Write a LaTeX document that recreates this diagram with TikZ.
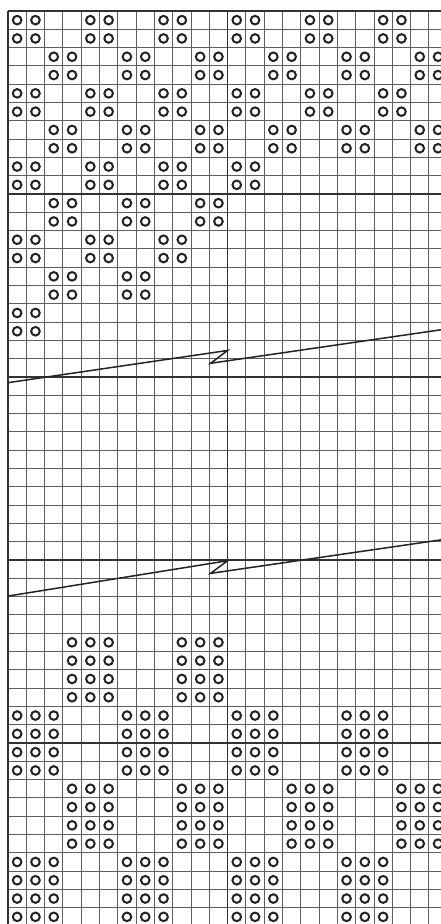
\documentclass[tikz,border=0pt]{standalone}
\begin{document}
\begin{tikzpicture}[x=18.3pt,y=-18.3pt]
\definecolor{gridgray}{RGB}{95,95,95}
\definecolor{majorgray}{RGB}{50,50,50}
\definecolor{ink}{RGB}{35,35,35}
\tikzset{
  gridline/.style={draw=gridgray, line width=1.0pt},
  majorline/.style={draw=majorgray, line width=1.6pt},
  ring/.style={draw=ink, line width=2.0pt},
  slant/.style={draw=ink, line width=1.5pt, line join=miter, line cap=round},
}
% page = reference proportions
\useasboundingbox[fill=white] (-0.4372,-0.6011) rectangle (23.6612,49.8907);
\begin{scope}
\clip (-0.4372,-0.6011) rectangle (23.6612,49.8907);
% fine grid
\foreach \c in {1,...,24} \draw[gridline] (\c,0) -- (\c,50);
\foreach \r in {1,...,50} \draw[gridline] (0,\r) -- (24,\r);
% heavier lines
\draw[majorline] (0,0) -- (0,50);
\draw[majorline] (0,0) -- (24,0);
\draw[majorline] (12,0) -- (12,50);
\foreach \r in {10,20,30,40} \draw[majorline] (0,\r) -- (24,\r);
% top 2x2 ring blocks (row, list of starting columns)
\foreach \r/\cols in {0/{0,4,8,12,16,20}, 2/{2,6,10,14,18,22},
                      4/{0,4,8,12,16,20}, 6/{2,6,10,14,18,22},
                      8/{0,4,8,12}, 10/{2,6,10}, 12/{0,4,8},
                      14/{2,6}, 16/{0}} {
  \foreach \c in \cols {
    \foreach \dx in {0,1} \foreach \dy in {0,1}
      \draw[ring] (\c+\dx+0.5,\r+\dy+0.5) circle (4.3pt);
  }
}
% bottom 3x4 ring blocks
\foreach \r/\cols in {34/{3,9}, 38/{0,6,12,18}, 42/{3,9,15,21}, 46/{0,6,12,18}} {
  \foreach \c in \cols {
    \foreach \dx in {0,1,2} \foreach \dy in {0,1,2,3}
      \draw[ring] (\c+\dx+0.5,\r+\dy+0.5) circle (4.3pt);
  }
}
% slanted break lines
\coordinate (a1) at (0,20.31);
\coordinate (b1) at (12,18.55);
\coordinate (c1) at (11.07,19.25);
\coordinate (d1) at (24,17.37);
\draw[slant] (a1) -- (b1) -- (c1) -- (d1);
\coordinate (a2) at (0,31.97);
\coordinate (b2) at (12,30.04);
\coordinate (c2) at (11.07,30.73);
\coordinate (d2) at (24,28.85);
\draw[slant] (a2) -- (b2) -- (c2) -- (d2);
\end{scope}
\end{tikzpicture}
\end{document}
